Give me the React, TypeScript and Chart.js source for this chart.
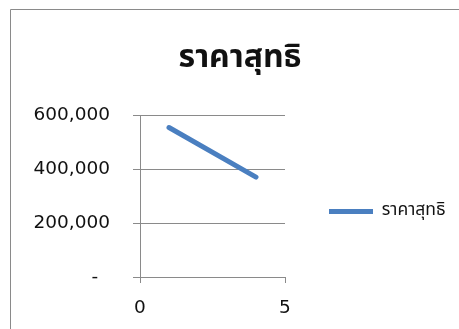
import React, { useEffect, useRef } from "react";
import { Chart, registerables } from "chart.js";

Chart.register(...registerables);

const chartTitle = "ราคาสุทธิ";
const seriesName = "ราคาสุทธิ";
const years = [1, 4];
const netPrice = [555000, 371000];
const yTicks = [0, 200000, 400000, 600000];
const xTicks = [0, 5];

const LABEL_FONT = "'DejaVu Sans', sans-serif";
const THAI_FONT = "'Noto Sans Thai', 'Noto Sans', 'DejaVu Sans', sans-serif";

const fmt = (v: number) => (v === 0 ? "-  " : v.toLocaleString("en-US"));

export default function App() {
  const ref = useRef<HTMLCanvasElement | null>(null);

  useEffect(() => {
    const canvas = ref.current;
    if (!canvas) return;
    const W = 459;
    const H = 423;
    const padL = 10;
    const legendW = 40;
    const plotLeft = 140;
    const plotRight = 285;
    const plotBottom = 277;
    const titleCenter = 240;
    const padR = W - plotRight - legendW;
    canvas.width = W;
    canvas.height = H;
    canvas.style.width = W + "px";
    canvas.style.height = H + "px";

    const framePlugin = {
      id: "frame",
      afterLayout(chart: any) {
        const t = chart.titleBlock;
        if (t) {
          const dx = titleCenter - (t.left + t.right) / 2;
          t.left += dx;
          t.right += dx;
        }
        const lg = chart.legend;
        if (lg) {
          lg.right = chart.width;
          lg.width = lg.right - lg.left;
        }
      },
      beforeDraw(chart: any) {
        const c = chart.ctx;
        c.save();
        c.fillStyle = "#ffffff";
        c.fillRect(0, 0, chart.width, chart.height);
        c.strokeStyle = "#8a8a8a";
        c.lineWidth = 1;
        c.beginPath();
        c.moveTo(10.5, chart.height);
        c.lineTo(10.5, 9.5);
        c.lineTo(chart.width, 9.5);
        c.stroke();
        c.restore();
      },
    };

    const chart = new Chart(canvas, {
      type: "scatter",
      data: {
        datasets: [
          {
            label: seriesName,
            data: years.map((x, i) => ({ x, y: netPrice[i] })),
            showLine: true,
            borderColor: "#4a7fc0",
            backgroundColor: "#4a7fc0",
            borderWidth: 5,
            borderCapStyle: "round",
            pointRadius: 0,
            pointHoverRadius: 0,
          },
        ],
      },
      options: {
        responsive: false,
        animation: false,
        devicePixelRatio: 1,
        layout: { padding: { left: padL, right: padR, top: 0, bottom: 0 } },
        plugins: {
          title: {
            display: true,
            text: chartTitle,
            color: "#111111",
            font: { family: THAI_FONT, size: 32, weight: "bold" },
            padding: { top: 41, bottom: 36 },
          },
          legend: {
            display: true,
            position: "right",
            align: "center",
            maxWidth: legendW,
            labels: {
              usePointStyle: true,
              pointStyle: "line",
              pointStyleWidth: 44,
              boxWidth: 44,
              padding: 44,
              color: "#111111",
              font: { family: THAI_FONT, size: 17.5 },
            },
          },
          tooltip: { enabled: false },
        },
        scales: {
          x: {
            type: "linear",
            min: 0,
            max: 5,
            afterBuildTicks: (s: any) => {
              s.ticks = xTicks.map((v) => ({ value: v }));
            },
            afterFit: (s: any) => {
              s.height = H - plotBottom;
            },
            grid: { drawOnChartArea: false, drawTicks: true, tickLength: 6, color: "#8a8a8a" },
            border: { display: true, color: "#8a8a8a" },
            ticks: {
              padding: 14,
              color: "#111111",
              font: { family: LABEL_FONT, size: 18.5 },
              maxRotation: 0,
            },
          },
          y: {
            type: "linear",
            min: 0,
            max: 600000,
            afterBuildTicks: (s: any) => {
              s.ticks = yTicks.map((v) => ({ value: v }));
            },
            afterFit: (s: any) => {
              s.width = plotLeft - padL;
            },
            grid: { drawTicks: true, tickLength: 7, color: "#8a8a8a" },
            border: { display: true, color: "#8a8a8a" },
            ticks: {
              padding: 23,
              color: "#111111",
              font: { family: LABEL_FONT, size: 18.5 },
              callback: (v: any) => fmt(Number(v)),
            },
          },
        },
      },
      plugins: [framePlugin],
    });
    return () => chart.destroy();
  }, []);

  return (
    <div
      style={{
        position: "fixed",
        left: 0,
        top: 0,
        width: 459,
        height: 329,
        overflow: "hidden",
        background: "#fff",
      }}
    >
      <canvas ref={ref} style={{ display: "block" }} />
    </div>
  );
}
